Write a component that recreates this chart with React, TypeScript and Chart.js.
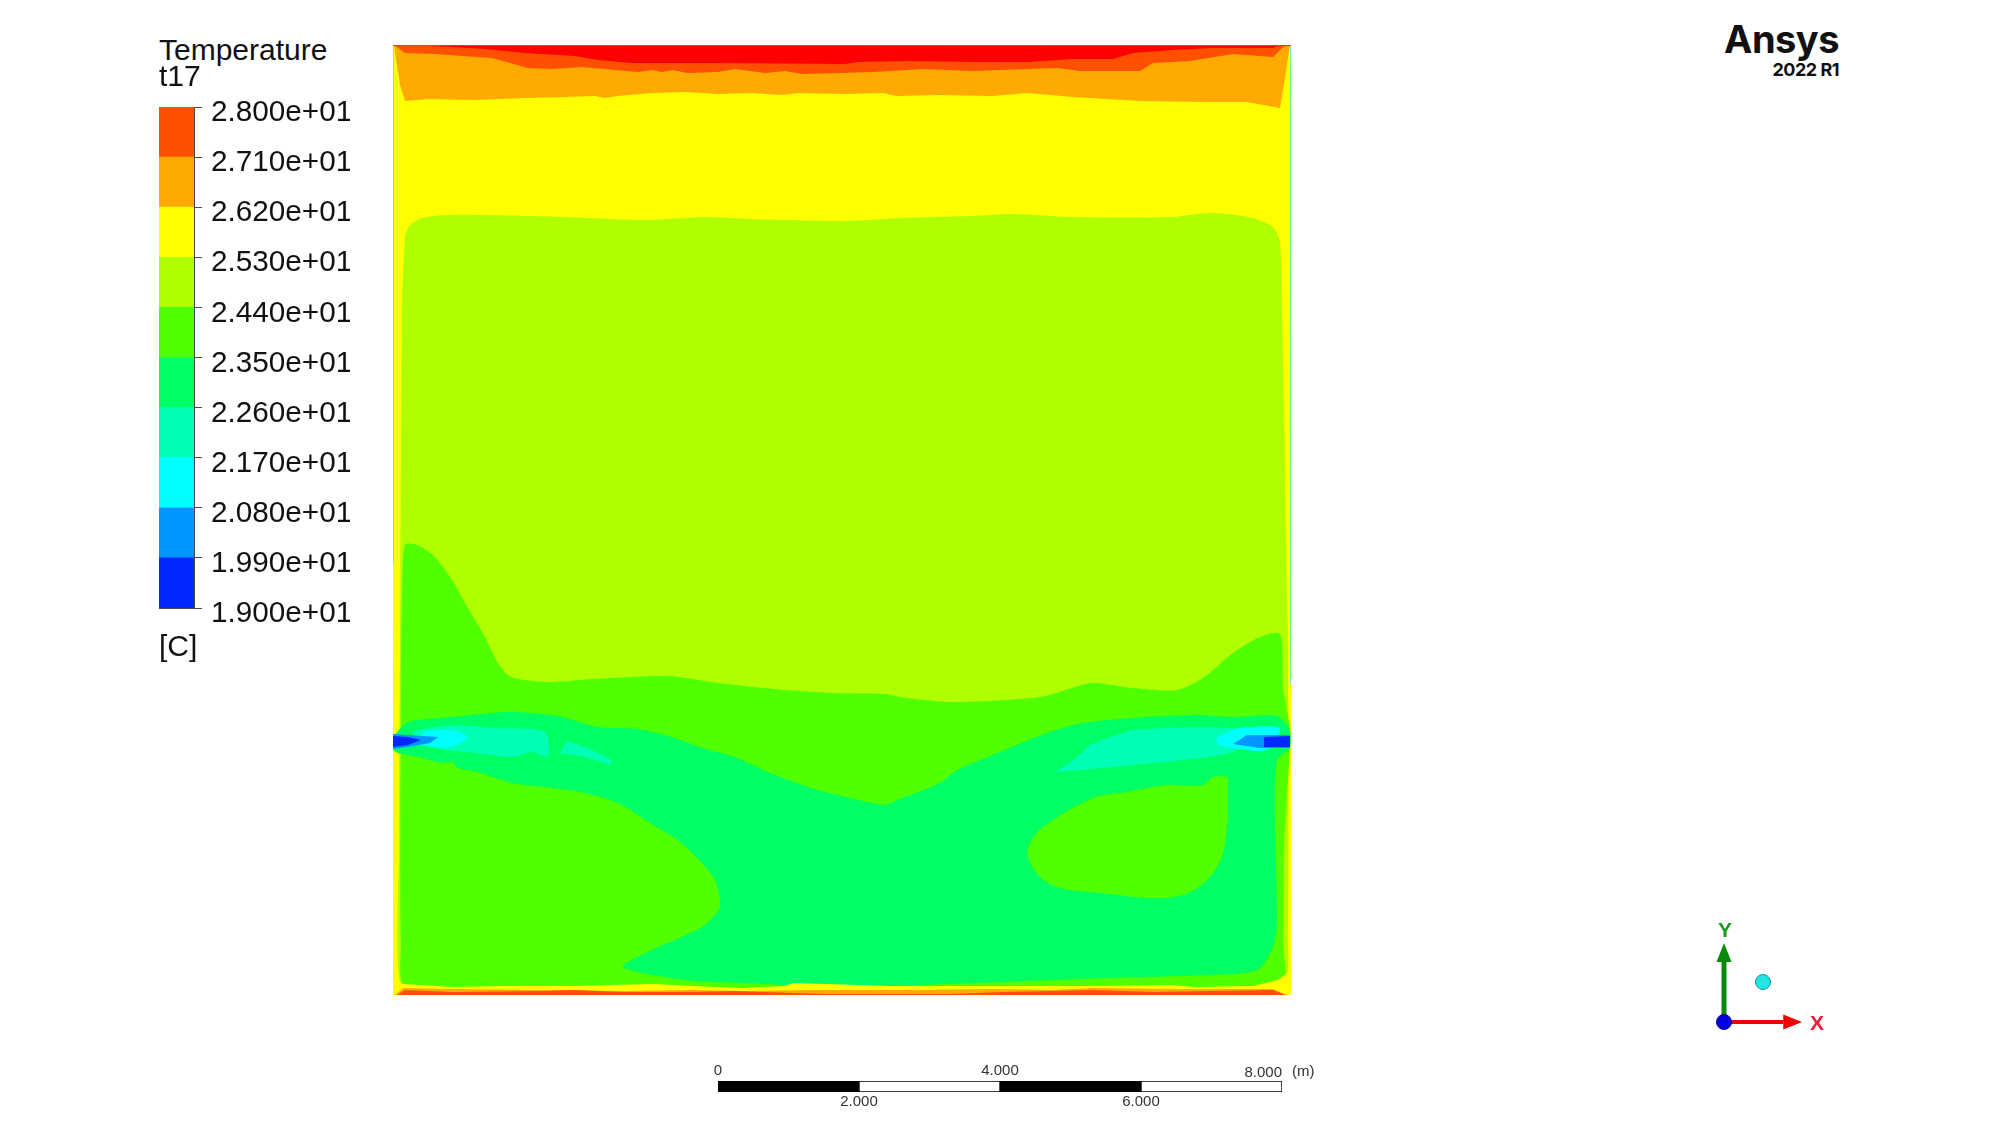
import React, { useEffect, useRef } from "react";
import { Chart, registerables } from "chart.js";

Chart.register(...registerables);

type P = number[];

// Colour levels of the temperature legend, low to high [C]
const levelEdges = [19, 19.9, 20.8, 21.7, 22.6, 23.5, 24.4, 25.3, 26.2, 27.1, 28];
const levelLabels = ["1.900e+01", "1.990e+01", "2.080e+01", "2.170e+01", "2.260e+01", "2.350e+01", "2.440e+01", "2.530e+01", "2.620e+01", "2.710e+01", "2.800e+01"];
const BLUE = "#0028ff", SKY = "#0096ff", CYAN = "#00ffff", AQUA = "#00ffb4", MINT = "#00ff64",
  GREEN = "#50ff00", LIME = "#b0ff00", YELLOW = "#ffff00", ORANGE = "#ffaa00", HOT = "#ff5000", RED = "#ff0000";
const levelColors = [BLUE, SKY, CYAN, AQUA, MINT, GREEN, LIME, YELLOW, ORANGE, HOT];

// Contour bands, in plot-grid units (x 0-898, y 0-950 counted from the top wall)
const domain: P[] = [[0, 0], [898, 0], [898, 950], [0, 950]];
const orangeBand: P[] = [[1, 0], [7, 40], [12, 56], [35, 54], [82, 55], [132, 53], [172, 52], [202, 51], [212, 53], [225, 51], [259, 48], [292, 47], [325, 49], [359, 48], [389, 50], [405, 48], [452, 49], [490, 48], [504, 51], [544, 50], [600, 51], [634, 48], [680, 52], [747, 56], [814, 57], [854, 57], [887, 63], [892, 33], [897, 0]];
const hotBand: P[] = [[1, 0], [12, 8], [42, 9], [99, 13], [135, 23], [159, 24], [189, 22], [245, 27], [259, 25], [269, 27], [279, 25], [295, 28], [325, 27], [342, 24], [372, 28], [392, 26], [409, 29], [447, 28], [480, 27], [530, 24], [580, 26], [607, 25], [664, 23], [687, 26], [747, 26], [760, 18], [797, 16], [840, 9], [880, 12], [890, 2], [897, 0]];
const redBand: P[] = [[12, 0], [59, 2], [92, 4], [132, 8], [182, 11], [205, 15], [239, 18], [325, 18], [452, 19], [464, 17], [514, 16], [580, 17], [634, 17], [680, 14], [720, 14], [740, 8], [780, 5], [820, 3], [880, 3], [887, 0]];
const limeBand: P[] = [[12, 190], [17, 180], [29, 173], [52, 170], [92, 170], [172, 172], [252, 175], [312, 172], [359, 174], [452, 176], [507, 173], [580, 171], [620, 169], [680, 172], [780, 172], [814, 168], [856, 172], [880, 182], [887, 198], [889, 265], [891, 365], [893, 498], [895, 598], [895, 900], [890, 942], [10, 942], [6, 800], [7, 600], [8, 400], [9, 250]];
const greenBand: P[] = [[9, 552], [12, 500], [25, 500], [42, 512], [59, 535], [72, 558], [92, 592], [105, 618], [118, 632], [155, 637], [199, 634], [275, 631], [325, 638], [392, 645], [442, 648], [492, 649], [507, 652], [557, 657], [647, 652], [699, 638], [740, 643], [784, 645], [810, 633], [840, 608], [867, 592], [887, 589], [890, 642], [897, 688], [891, 800], [890, 900], [888, 942], [14, 942], [8, 900], [8, 600]];
const mintBand: P[] = [[0, 692], [15, 677], [59, 672], [115, 667], [165, 671], [205, 682], [245, 684], [282, 693], [309, 703], [342, 712], [375, 727], [425, 745], [492, 760], [504, 755], [547, 738], [564, 725], [607, 707], [654, 688], [690, 678], [740, 673], [800, 670], [840, 672], [884, 671], [897, 685], [897, 703], [884, 715], [882, 775], [884, 875], [880, 902], [864, 925], [814, 930], [714, 933], [580, 938], [447, 942], [352, 938], [292, 935], [230, 922], [259, 905], [309, 882], [327, 862], [322, 835], [309, 818], [285, 795], [265, 783], [225, 758], [192, 748], [152, 742], [119, 738], [85, 727], [65, 723], [59, 717], [49, 718], [25, 712], [5, 708], [0, 705]];
const rightLobe: P[] = [[835, 732], [820, 732], [810, 740], [774, 740], [734, 747], [700, 753], [650, 782], [637, 798], [635, 812], [647, 832], [667, 843], [707, 848], [757, 853], [790, 850], [814, 835], [829, 812], [835, 775]];
const leftAqua: P[] = [[20, 686], [35, 683], [59, 680], [102, 683], [152, 687], [155, 712], [139, 707], [119, 712], [82, 708], [52, 705], [39, 702], [20, 700]];
const leftAquaPatch: P[] = [[167, 708], [174, 696], [195, 703], [219, 715], [217, 720], [192, 712]];
const leftCyan: P[] = [[30, 686], [59, 685], [75, 692], [59, 702], [39, 702], [30, 700]];
const leftSky: P[] = [[0, 689], [45, 692], [37, 698], [15, 702], [0, 704]];
const leftBlue: P[] = [[0, 691], [15, 692], [28, 695], [15, 700], [0, 702]];
const rightAqua: P[] = [[662, 727], [684, 712], [697, 700], [724, 690], [740, 685], [807, 682], [840, 683], [874, 683], [840, 707], [790, 715], [740, 720], [690, 725]];
const rightCyan: P[] = [[824, 692], [847, 683], [887, 683], [874, 705], [840, 703], [824, 700]];
const rightSky: P[] = [[840, 699], [854, 690], [897, 690], [897, 703], [867, 703]];
const rightBlue: P[] = [[871, 692], [897, 691], [897, 702], [871, 702]];
const floorYellow: P[] = [[0, 950], [0, 935], [10, 939], [60, 942], [110, 941], [180, 941], [260, 939], [320, 942], [350, 943], [392, 941], [400, 938], [500, 941], [600, 941], [700, 941], [780, 940], [800, 942], [860, 941], [885, 935], [898, 925], [898, 950]];
const floorOrange: P[] = [[2, 950], [10, 943], [60, 944], [140, 945], [230, 946], [300, 945], [350, 946], [420, 945], [520, 945], [600, 944], [660, 945], [700, 943], [780, 944], [880, 944], [894, 950]];
const floorHot: P[] = [[4, 950], [12, 945], [60, 947], [150, 946], [180, 945], [230, 947], [300, 947], [340, 946], [432, 949], [557, 949], [610, 947], [660, 946], [700, 945], [760, 947], [820, 946], [880, 945], [893, 950]];
const topWall: P[] = [[0, 0.5], [898, 0.5]];
const leftWall: P[] = [[0.5, 0], [0.5, 520]];
const rightWall: P[] = [[897.5, 0], [897.5, 640]];

// Length scale
const scaleStops = [0, 2, 4, 6, 8];
const scaleColors = ["#000000", "#ffffff", "#000000", "#ffffff"];
const scaleTicksAbove = [0, 4];
const scaleTicksAboveEnd = [8];
const scaleTicksBelow = [2, 6];

// Coordinate triad, in units of one axis length
const xShaft: P[] = [[0, 0], [0.76, 0]];
const xHead: P[] = [[0.76, 0.095], [1, 0], [0.76, -0.095]];
const yShaft: P[] = [[0, 0], [0, 0.76]];
const yHead: P[] = [[-0.096, 0.76], [0, 1], [0.096, 0.76]];
const originDot: P[] = [[0, 0]];
const viewDot: P[] = [[0.5, 0.506]];

const FONT = "'Liberation Sans', Arial, sans-serif";
const pts = (a: P[]) => a.map(([x, y]) => ({ x, y }));
const band = (a: P[], color: string, tension = 0) => ({
  data: pts(a), showLine: true, pointRadius: 0, borderWidth: 0, backgroundColor: color, fill: "shape" as const, tension,
});
const edge = (a: P[], color: string, width = 1) => ({
  data: pts(a), showLine: true, pointRadius: 0, borderWidth: width, borderColor: color, fill: false,
});
const quiet = { legend: { display: false }, tooltip: { enabled: false } };
const pad0 = { autoPadding: false, padding: { left: 0, right: 0, top: 0, bottom: 0 } };

const labelStyle = (left: number, top: number, size: number, extra: React.CSSProperties = {}): React.CSSProperties => ({
  position: "absolute", left, top, fontFamily: FONT, fontSize: size, lineHeight: `${size}px`, color: "#111", whiteSpace: "nowrap", ...extra,
});
const canvasStyle = (left: number, top: number): React.CSSProperties => ({ position: "absolute", left, top, display: "block" });

export default function App() {
  const fieldRef = useRef<HTMLCanvasElement>(null);
  const barRef = useRef<HTMLCanvasElement>(null);
  const scaleRef = useRef<HTMLCanvasElement>(null);
  const triadRef = useRef<HTMLCanvasElement>(null);

  useEffect(() => {
    const soft = 0.25;
    const painted = [
      band(domain, YELLOW), band(orangeBand, ORANGE), band(hotBand, HOT), band(redBand, RED),
      band(limeBand, LIME, soft), band(greenBand, GREEN, soft), band(mintBand, MINT, soft), band(rightLobe, GREEN, 0.35),
      band(leftAqua, AQUA, soft), band(leftAquaPatch, AQUA), band(leftCyan, CYAN, soft), band(leftSky, SKY), band(leftBlue, BLUE),
      band(rightAqua, AQUA, soft), band(rightCyan, CYAN, soft), band(rightSky, SKY), band(rightBlue, BLUE),
      band(floorYellow, YELLOW), band(floorOrange, ORANGE), band(floorHot, HOT),
      edge(leftWall, "#8fe88f"), edge(rightWall, "#6fefa8"), edge(topWall, "#b05a10"),
    ];
    const field = new Chart(fieldRef.current!, {
      type: "scatter",
      data: { datasets: painted.reverse() as any },
      options: {
        responsive: false, animation: false, layout: pad0, plugins: quiet,
        scales: {
          x: { type: "linear", display: false, min: 0, max: 898 },
          y: { type: "linear", display: false, min: 0, max: 950, reverse: true },
        },
      },
    });

    const outline = "#4a4a4a";
    const bar = new Chart(barRef.current!, {
      type: "bar",
      data: {
        labels: ["Temperature"],
        datasets: levelColors.map((c, i) => ({
          data: [[levelEdges[i], levelEdges[i + 1]]] as any, backgroundColor: c, borderWidth: 0,
          barPercentage: 1, categoryPercentage: 1, grouped: false,
        })),
      },
      options: {
        responsive: false, animation: false, plugins: quiet,
        layout: { autoPadding: false, padding: { left: 9, right: 20, top: 17, bottom: 22 } },
        scales: {
          x: { display: true, ticks: { display: false }, grid: { display: false, drawTicks: false }, border: { display: true, color: outline }, afterFit: (s: any) => { s.height = 0; } },
          left: { type: "linear", position: "left", display: true, min: 19, max: 28, ticks: { display: false }, grid: { display: false, drawTicks: false }, border: { display: true, color: outline }, afterFit: (s: any) => { s.width = 0; } },
          y: {
            type: "linear", position: "right", min: 19, max: 28,
            afterBuildTicks: (s: any) => { s.ticks = levelEdges.map((value) => ({ value })); },
            afterFit: (s: any) => { s.width = 156; s.paddingTop = 0; s.paddingBottom = 0; },
            ticks: {
              autoSkip: false, padding: 9, labelOffset: 6, color: "#111", font: { family: FONT, size: 29.7 },
              callback: (v: any) => levelLabels[levelEdges.findIndex((e) => Math.abs(e - Number(v)) < 1e-6)],
            },
            grid: { drawOnChartArea: false, tickLength: 8, tickColor: outline },
            border: { display: true, color: outline },
          },
        },
      },
    });

    const scaleTickFont = { family: FONT, size: 15 };
    const scaleFmt = (v: any) => (Number(v) === 0 ? "0" : Number(v).toFixed(3));
    const noRule = { grid: { display: false, drawTicks: false }, border: { display: false } };
    const scaleBar = new Chart(scaleRef.current!, {
      type: "bar",
      data: {
        labels: ["m"],
        datasets: scaleColors.map((c, i) => ({
          data: [[scaleStops[i], scaleStops[i + 1]]] as any, backgroundColor: c, borderColor: "#000000", borderWidth: 1,
          borderSkipped: false, barPercentage: 1, categoryPercentage: 1, grouped: false,
        })),
      },
      options: {
        indexAxis: "y", responsive: false, animation: false, plugins: quiet,
        layout: { autoPadding: false, padding: { left: 18, right: 58, top: 0, bottom: 0 } },
        scales: {
          y: { display: false },
          x: {
            type: "linear", position: "bottom", min: 0, max: 8, ...noRule,
            afterBuildTicks: (s: any) => { s.ticks = scaleTicksBelow.map((value) => ({ value })); },
            afterFit: (s: any) => { s.height = 33; },
            ticks: { autoSkip: false, maxRotation: 0, padding: 1, color: "#333", font: scaleTickFont, callback: scaleFmt },
          },
          above: {
            type: "linear", position: "top", min: 0, max: 8, weight: 1, ...noRule,
            afterBuildTicks: (s: any) => { s.ticks = scaleTicksAbove.map((value) => ({ value })); },
            afterFit: (s: any) => { s.height = 26; },
            ticks: { autoSkip: false, maxRotation: 0, padding: 1, color: "#333", font: scaleTickFont, callback: scaleFmt },
          },
          aboveEnd: {
            type: "linear", position: "top", min: 0, max: 8, weight: -1, ...noRule,
            afterBuildTicks: (s: any) => { s.ticks = scaleTicksAboveEnd.map((value) => ({ value })); },
            afterFit: (s: any) => { s.height = 0; },
            ticks: { autoSkip: false, maxRotation: 0, align: "end", mirror: true, padding: -17, color: "#333", font: scaleTickFont, callback: scaleFmt },
          },
        },
      },
    });

    const dot = (a: P[], color: string, rim: string) => ({
      data: pts(a), showLine: false, pointRadius: 7.5, pointBackgroundColor: color, pointBorderColor: rim, pointBorderWidth: 1,
    });
    const triadSets = [
      edge(yShaft, "#0a8a0a", 5), band(yHead, "#0a8a0a"),
      edge(xShaft, "#f00000", 4), band(xHead, "#f00000"),
      dot(originDot, "#0000e0", "#0000a0"), dot(viewDot, "#22e4e4", "#0b9a9a"),
    ];
    const triad = new Chart(triadRef.current!, {
      type: "scatter",
      data: { datasets: triadSets.reverse() as any },
      options: {
        responsive: false, animation: false, layout: pad0, plugins: quiet,
        scales: {
          x: { type: "linear", display: false, min: -0.308, max: 1.231 },
          y: { type: "linear", display: false, min: -0.228, max: 1.101 },
        },
      },
    });

    return () => { field.destroy(); bar.destroy(); scaleBar.destroy(); triad.destroy(); };
  }, []);

  return (
    <div style={{ position: "absolute", left: 0, top: 0, width: 2000, height: 1125, overflow: "hidden", background: "#fff", filter: "blur(0.4px)" }}>
      <canvas ref={fieldRef} width={898} height={950} style={canvasStyle(393, 45)} />
      <canvas ref={barRef} width={220} height={540} style={canvasStyle(150, 90)} />
      <canvas ref={scaleRef} width={640} height={70} style={canvasStyle(700, 1055)} />
      <canvas ref={triadRef} width={120} height={105} style={canvasStyle(1700, 935)} />
      <div style={labelStyle(159, 35, 30)}>Temperature</div>
      <div style={labelStyle(159, 61, 30)}>t17</div>
      <div style={labelStyle(159, 631, 30)}>[C]</div>
      <div style={labelStyle(1292, 1063, 15, { color: "#333" })}>(m)</div>
      <div style={labelStyle(1725, 929, 21, { fontWeight: 700, color: "#1a9a1a", transform: "translate(-50%,-50%)" })}>Y</div>
      <div style={labelStyle(1817, 1022, 21, { fontWeight: 700, color: "#e8203a", transform: "translate(-50%,-50%)" })}>X</div>
      <div style={labelStyle(1839, 20, 38, { transform: "translateX(-100%)", fontFamily: "Inter, sans-serif", fontWeight: 700, color: "#111", letterSpacing: "-0.5px" })}>Ansys</div>
      <div style={labelStyle(1839, 61, 18, { transform: "translateX(-100%)", fontFamily: "Inter, sans-serif", fontWeight: 700, color: "#111", letterSpacing: "-0.5px" })}>2022 R1</div>
    </div>
  );
}
